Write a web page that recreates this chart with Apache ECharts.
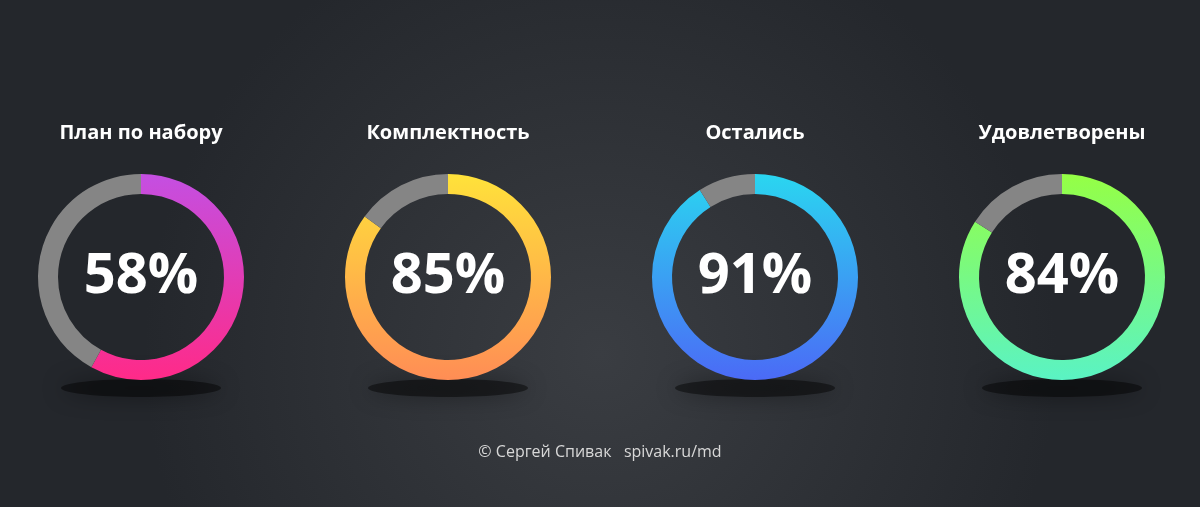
<!DOCTYPE html>
<html><head><meta charset="utf-8">
<script src="https://cdn.jsdelivr.net/npm/echarts@6/dist/echarts.min.js"></script>
<style>html,body{margin:0;padding:0;}#c{width:1200px;height:507px;}</style>
</head><body><div id="c"></div>
<script>
const titles = ['План по набору','Комплектность','Остались','Удовлетворены'];
const values = [58, 85, 91, 84];
const topColors = ['#c44fe2','#ffe23a','#2ad6f0','#95ff45'];
const bottomColors = ['#ff2a88','#ff8d55','#4b6af6','#5af3c4'];
const footer = '© Сергей Спивак   spivak.ru/md';

const W = 1200, H = 507;
const centersX = [141, 448, 755, 1062];
const cy = 277, rOut = 103, rIn = 83;
const chart = echarts.init(document.getElementById('c'));
const series = [], graphic = [];
values.forEach((v, i) => {
  const cx = centersX[i];
  graphic.push({type:'ellipse', z:-1, shape:{cx:cx, cy:388, rx:80, ry:9},
    style:{fill:'rgba(0,0,0,0.45)', shadowBlur:22, shadowColor:'rgba(0,0,0,0.8)'}});
  graphic.push({type:'text', x: cx, y: 133, style:{text:titles[i], textAlign:'center', textVerticalAlign:'middle',
    fill:'#ffffff', font:'bold 20px "Open Sans", sans-serif'}});
  series.push({
    type:'pie', center:[cx, cy], radius:[rIn, rOut], startAngle:90, clockwise:true,
    silent:true, label:{show:true, position:'center', formatter: v + '%', color:'#fff',
      fontSize:56, fontWeight:'bold', fontFamily:'"Open Sans", sans-serif', padding:[6,0,0,0]},
    labelLine:{show:false},
    data:[
      {value:v, itemStyle:{color:{type:'linear', x:cx, y:cy-rOut, x2:cx, y2:cy+rOut, global:true,
        colorStops:[{offset:0,color:topColors[i]},{offset:1,color:bottomColors[i]}]}},
        label:{show:true}},
      {value:100-v, itemStyle:{color:'#858585'}, label:{show:false}}
    ]
  });
});
graphic.push({type:'text', x:W/2, y:452, style:{text:footer, textAlign:'center', textVerticalAlign:'middle',
  fill:'#d8d8d8', font:'16px "Open Sans", sans-serif'}});
chart.setOption({
  backgroundColor:{type:'radial', x:0.5, y:0.7, r:0.9, colorStops:[{offset:0,color:'#3a3d42'},{offset:1,color:'#24272c'}]},
  animation:false, graphic: graphic, series: series
});
</script></body></html>
